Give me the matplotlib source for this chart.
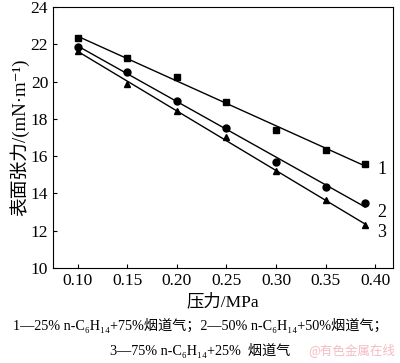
import numpy as np
import matplotlib
matplotlib.use("Agg")
import matplotlib.pyplot as plt

plt.rcParams['font.family'] = ['Liberation Serif', 'Noto Sans CJK SC', 'DejaVu Serif']

# pressure (MPa) and surface tension (mN/m)
pressure = [0.10, 0.15, 0.20, 0.25, 0.30, 0.35, 0.39]
tension_1 = [22.32, 21.25, 20.26, 18.88, 17.40, 16.33, 15.60]
tension_2 = [21.87, 20.52, 18.95, 17.50, 15.70, 14.35, 13.48]
tension_3 = [21.66, 19.87, 18.40, 17.05, 15.18, 13.66, 12.28]
series_names = ["1", "2", "3"]
markers = ["s", "o", "^"]
xticks = [0.10, 0.15, 0.20, 0.25, 0.30, 0.35, 0.40]
yticks = [10, 12, 14, 16, 18, 20, 22, 24]

fig = plt.figure(figsize=(4.0, 3.63), dpi=100)
ax = fig.add_axes([0.1325, 0.2617, 0.85, 0.719])

x = np.array(pressure)
label_shift = [-0.2, -0.3, -0.45]  # nudge of the curve number below the last point
for y, m, name, dy in zip([tension_1, tension_2, tension_3], markers, series_names, label_shift):
    y = np.array(y)
    k, b = np.polyfit(x, y, 1)
    ax.plot(x, k * x + b, color="black", lw=1.0)
    ax.plot(x, y, ls="none", marker=m, color="black", markersize=5.0)
    ax.text(0.402, k * 0.39 + b + dy, name, fontsize=13, va="center", ha="left")

ax.set_xlim(0.075, 0.418)
ax.set_ylim(10, 24)
ax.set_xticks(xticks)
ax.set_xticklabels(["%.2f" % v for v in xticks])
ax.set_yticks(yticks)
ax.tick_params(direction="in", length=3, labelsize=12.5, width=0.8)
for s in ax.spines.values():
    s.set_linewidth(0.8)

ax.set_xlabel("压力/MPa", fontsize=12.5, labelpad=3)
ax.set_ylabel("表面张力/(mN·m⁻¹)", fontsize=13.5, labelpad=1)

fig.text(0.5, 0.103, "1—25% n-C₆H₁₄+75%烟道气；2—50% n-C₆H₁₄+50%烟道气；",
         ha="center", va="center", fontsize=10.2)
fig.text(0.5, 0.035, "3—75% n-C₆H₁₄+25%  烟道气", ha="center", va="center", fontsize=10.2)
fig.text(0.988, 0.035, "@有色金属在线", ha="right", va="center", fontsize=9,
         color="#f2bcc4", family=["Noto Sans CJK SC"])

fig.savefig("out.png", dpi=100)
